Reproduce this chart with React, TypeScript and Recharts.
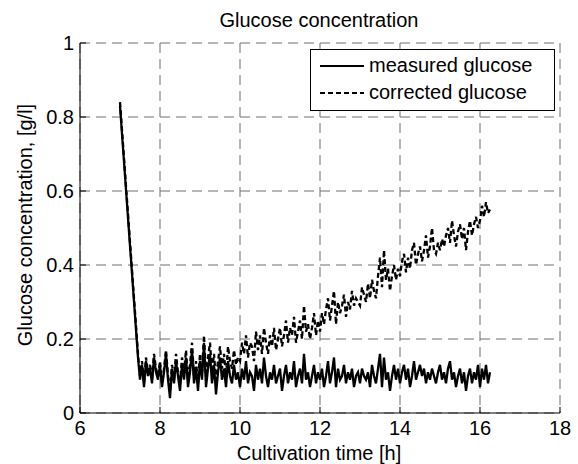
import { CartesianGrid, Line, LineChart, XAxis, YAxis } from "recharts";

// Offline reference sample at inoculation, before the on-line probe starts
const HEAD_TIMES = [7.0, 7.02];
const HEAD_MEASURED = [0.83, 0.8];
const HEAD_CORRECTED = [0.84, 0.81];

// On-line probe readings, one every 3 min (0.05 h) from 7.45 h
const SAMPLE_START = 7.45;
const SAMPLE_STEP = 0.05;

const MEASURED = [
  0.15, 0.09, 0.13, 0.07, 0.14, 0.10, 0.12, 0.08, 0.15, 0.11, 0.09,
  0.13, 0.07, 0.11, 0.16, 0.09, 0.04, 0.12, 0.08, 0.14, 0.10, 0.06, 0.13, 0.09, 0.15, 0.07, 0.11, 0.17, 0.08, 0.12, 0.06,
  0.14, 0.09, 0.19, 0.07, 0.12, 0.16, 0.08, 0.13, 0.05, 0.11, 0.15, 0.09, 0.12, 0.07, 0.14, 0.10, 0.08, 0.13, 0.09, 0.11,
  0.07, 0.12, 0.09, 0.14, 0.08, 0.11, 0.10, 0.06, 0.13, 0.09, 0.12, 0.08, 0.15, 0.10, 0.07, 0.11, 0.09, 0.13, 0.08, 0.10,
  0.12, 0.06, 0.10, 0.13, 0.08, 0.11, 0.09, 0.14, 0.07, 0.10, 0.12, 0.08, 0.16, 0.09, 0.11, 0.07, 0.10, 0.13, 0.08, 0.11,
  0.09, 0.12, 0.07, 0.10, 0.14, 0.08, 0.11, 0.15, 0.07, 0.12, 0.09, 0.10, 0.13, 0.08, 0.11, 0.09, 0.12, 0.07, 0.10, 0.11,
  0.08, 0.12, 0.10, 0.09, 0.11, 0.07, 0.13, 0.10, 0.08, 0.12, 0.16, 0.07, 0.15, 0.09, 0.11, 0.06, 0.10, 0.13, 0.09, 0.12,
  0.08, 0.11, 0.13, 0.09, 0.12, 0.07, 0.10, 0.14, 0.09, 0.11, 0.13, 0.10, 0.12, 0.08, 0.11, 0.09, 0.12, 0.10, 0.08, 0.11,
  0.13, 0.09, 0.11, 0.08, 0.12, 0.14, 0.09, 0.11, 0.07, 0.10, 0.12, 0.08, 0.11, 0.06, 0.10, 0.12, 0.08, 0.11, 0.09, 0.13,
  0.07, 0.12, 0.09, 0.13, 0.08, 0.11,
];

const CORRECTED = [
  0.16, 0.10, 0.14, 0.08, 0.15, 0.11, 0.13, 0.09, 0.16, 0.12, 0.10,
  0.14, 0.08, 0.12, 0.17, 0.10, 0.06, 0.13, 0.09, 0.16, 0.11, 0.08, 0.15, 0.11, 0.17, 0.09, 0.13, 0.19, 0.10, 0.14, 0.08,
  0.16, 0.11, 0.21, 0.10, 0.15, 0.19, 0.11, 0.16, 0.09, 0.14, 0.18, 0.12, 0.16, 0.10, 0.18, 0.14, 0.12, 0.17, 0.13, 0.15,
  0.14, 0.19, 0.16, 0.21, 0.15, 0.19, 0.18, 0.14, 0.22, 0.17, 0.21, 0.16, 0.23, 0.19, 0.16, 0.21, 0.18, 0.23, 0.17, 0.20,
  0.23, 0.18, 0.21, 0.25, 0.19, 0.23, 0.21, 0.26, 0.19, 0.22, 0.25, 0.20, 0.29, 0.22, 0.24, 0.20, 0.23, 0.27, 0.21, 0.25,
  0.22, 0.27, 0.24, 0.28, 0.31, 0.25, 0.29, 0.33, 0.24, 0.30, 0.27, 0.29, 0.32, 0.26, 0.30, 0.28, 0.33, 0.29, 0.31, 0.30,
  0.29, 0.34, 0.32, 0.30, 0.35, 0.31, 0.36, 0.33, 0.31, 0.37, 0.42, 0.34, 0.44, 0.36, 0.39, 0.33, 0.37, 0.40, 0.36, 0.39,
  0.37, 0.41, 0.43, 0.38, 0.42, 0.39, 0.44, 0.46, 0.40, 0.43, 0.45, 0.41, 0.44, 0.48, 0.42, 0.45, 0.50, 0.44, 0.43, 0.46,
  0.44, 0.47, 0.45, 0.48, 0.50, 0.46, 0.52, 0.48, 0.45, 0.49, 0.51, 0.47, 0.50, 0.44, 0.49, 0.52, 0.48, 0.51, 0.53, 0.50,
  0.52, 0.56, 0.53, 0.57, 0.54, 0.55,
];

const SERIES = [
  { key: "measured", name: "measured glucose", dash: undefined as string | undefined },
  { key: "corrected", name: "corrected glucose", dash: "5 3" },
];

const X_TICKS = [6, 8, 10, 12, 14, 16, 18];
const Y_TICKS = [0, 0.2, 0.4, 0.6, 0.8, 1];

const FONT = "'Liberation Sans', Arial, Helvetica, sans-serif";
const TICK_STYLE = { fill: "#000", fontSize: 20, fontFamily: FONT };
const GRID_COLOR = "#6e6e6e";

type Row = { t: number; measured: number; corrected: number };

function buildRows(): Row[] {
  const rows: Row[] = HEAD_TIMES.map((t, i) => ({
    t,
    measured: HEAD_MEASURED[i],
    corrected: HEAD_CORRECTED[i],
  }));
  MEASURED.forEach((m, i) => {
    rows.push({
      t: +(SAMPLE_START + i * SAMPLE_STEP).toFixed(2),
      measured: m,
      corrected: CORRECTED[i],
    });
  });
  return rows;
}

// Boxed legend in the upper right corner of the axes
function BoxLegend() {
  return (
    <div
      style={{
        position: "absolute",
        left: 310,
        top: 49,
        width: 243,
        height: 58,
        border: "1px solid #000",
        background: "#fff",
        fontFamily: FONT,
        fontSize: 20,
        color: "#000",
        paddingTop: 2,
      }}
    >
      {SERIES.map((s) => (
        <div key={s.key} style={{ display: "flex", alignItems: "center", height: 27 }}>
          <svg width={58} height={10} style={{ flex: "none" }}>
            <line x1={9} x2={53} y1={5} y2={5} stroke="#000" strokeWidth={2} strokeDasharray={s.dash} />
          </svg>
          <span style={{ lineHeight: "27px" }}>{s.name}</span>
        </div>
      ))}
    </div>
  );
}

export default function App() {
  const data = buildRows();

  return (
    <div style={{ position: "absolute", left: 0, top: 0, width: 578, height: 464, background: "#fff" }}>
      <LineChart
        width={578}
        height={464}
        data={data}
        margin={{ top: 43, right: 18, bottom: 0, left: 0 }}
      >
        <CartesianGrid stroke={GRID_COLOR} strokeDasharray="10 6" />

        <XAxis
          dataKey="t"
          type="number"
          domain={[6, 18]}
          ticks={X_TICKS}
          allowDataOverflow
          stroke="#000"
          tick={TICK_STYLE}
          tickSize={-6}
          tickMargin={14}
          height={51}
        />
        <XAxis
          xAxisId="top"
          orientation="top"
          type="number"
          domain={[6, 18]}
          ticks={X_TICKS}
          allowDataOverflow
          stroke="#000"
          tick={false}
          tickSize={-6}
          height={0}
        />
        <YAxis
          type="number"
          domain={[0, 1]}
          ticks={Y_TICKS}
          allowDataOverflow
          stroke="#000"
          tick={TICK_STYLE}
          tickSize={-6}
          tickMargin={12}
          width={80}
        />
        <YAxis
          yAxisId="right"
          orientation="right"
          type="number"
          domain={[0, 1]}
          ticks={Y_TICKS}
          allowDataOverflow
          stroke="#000"
          tick={false}
          tickSize={-6}
          width={0}
        />

        {SERIES.map((s) => (
          <Line
            key={s.key}
            dataKey={s.key}
            name={s.name}
            stroke="#000"
            strokeWidth={2.3}
            strokeDasharray={s.dash}
            dot={false}
            type="linear"
            isAnimationActive={false}
          />
        ))}
      </LineChart>

      <BoxLegend />

      <svg
        width={578}
        height={464}
        style={{ position: "absolute", left: 0, top: 0, pointerEvents: "none" }}
        fontFamily={FONT}
        fontSize={20}
        fill="#000"
      >
        <text x={319} y={27} textAnchor="middle">Glucose concentration</text>
        <text x={319} y={460} textAnchor="middle">Cultivation time [h]</text>
        <text x={32} y={225} textAnchor="middle" transform="rotate(-90, 32, 225)">
          Glucose concentration, [g/l]
        </text>
      </svg>
    </div>
  );
}
